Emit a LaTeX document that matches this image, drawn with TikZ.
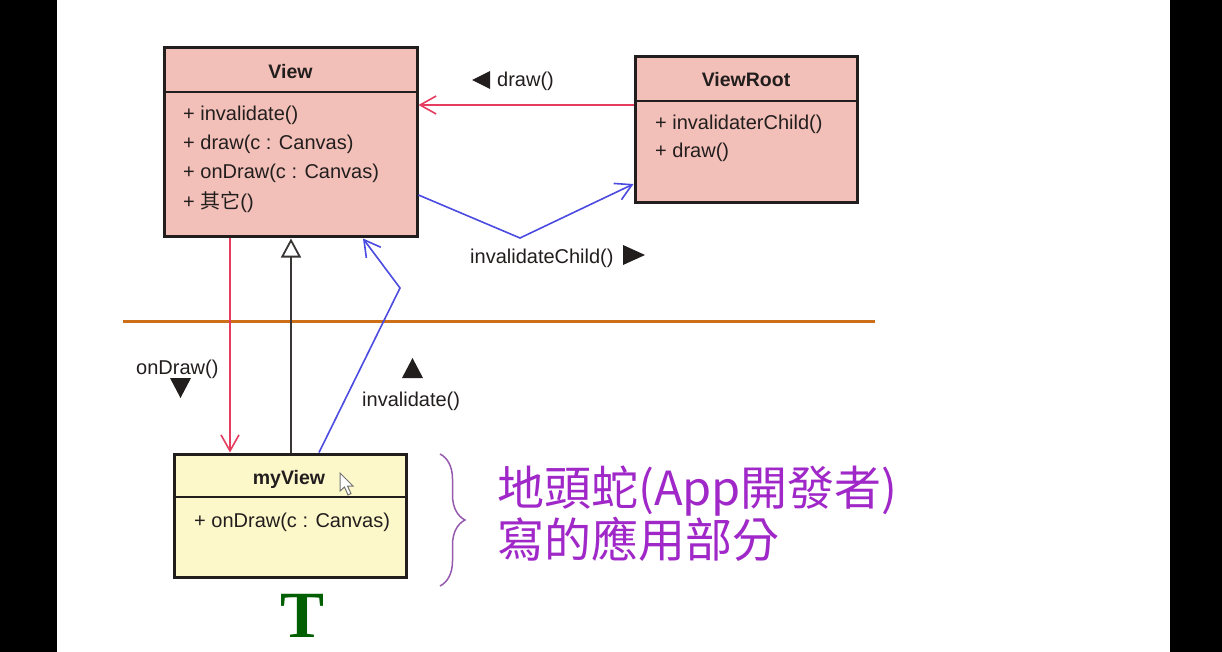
\documentclass[tikz,border=0pt]{standalone}
\usepackage{fontspec}
\setmainfont{Liberation Sans}
\newfontfamily\cjk{Noto Sans CJK TC}
\newfontfamily\serifb{Liberation Serif}
\usetikzlibrary{arrows.meta,decorations.pathreplacing,calc}
\definecolor{boxpink}{RGB}{242,192,184}
\definecolor{boxyellow}{RGB}{252,248,202}
\definecolor{linered}{RGB}{230,60,95}
\definecolor{lineblue}{RGB}{75,75,225}
\definecolor{orangeline}{RGB}{205,110,25}
\definecolor{textpurple}{RGB}{160,40,200}
\definecolor{bracepurple}{RGB}{150,90,175}
\definecolor{tgreen}{RGB}{0,95,0}
\definecolor{ink}{RGB}{35,30,30}
\begin{document}
\begin{tikzpicture}[x=1pt,y=-1pt,
  umlbox/.style={draw=ink,line width=3pt,inner sep=0pt},
  divider/.style={draw=ink,line width=2pt},
  member/.style={anchor=base west,inner sep=0pt,font=\fontsize{20}{20}\selectfont,text=ink},
  umltitle/.style={anchor=base,inner sep=0pt,font=\bfseries\fontsize{19.5}{19.5}\selectfont,text=ink},
  lbl/.style={anchor=base west,inner sep=0pt,font=\fontsize{20}{20}\selectfont,text=ink},
  tri/.style={fill=ink},
  openarrow/.style={-{Straight Barb[length=16pt,width=18pt,line width=1.6pt]},line width=1.6pt},
]
\fill[black] (0,0) rectangle (1222,652);
\fill[white] (57,0) rectangle (1170,652);
\useasboundingbox (0,0) rectangle (1222,652);

% View class
\node[umlbox,fill=boxpink,minimum width=253pt,minimum height=189pt] (view) at (290.5,142.5) {};
\draw[divider] (view.west |- 0,92) -- (view.east |- 0,92);
\node[umltitle] (viewt) at (290.5,79) {View};
\node[member] (vm1) at (183,121) {+ invalidate()};
\node[member] (vm2) at (183,150) {+ draw(c : Canvas)};
\node[member] (vm3) at (183,179) {+ onDraw(c : Canvas)};
\node[member] (vm4) at (183,209) {+ {\cjk 其它}()};

% ViewRoot class
\node[umlbox,fill=boxpink,minimum width=222pt,minimum height=146pt] (vroot) at (746,130) {};
\draw[divider] (vroot.west |- 0,101) -- (vroot.east |- 0,101);
\node[umltitle] (vroott) at (746,87) {ViewRoot};
\node[member] (rm1) at (655,130) {+ invalidaterChild()};
\node[member] (rm2) at (655,158) {+ draw()};

% myView class
\node[umlbox,fill=boxyellow,minimum width=232pt,minimum height=123pt] (myview) at (290,515.5) {};
\draw[divider] (myview.west |- 0,497) -- (myview.east |- 0,497);
\node[umltitle] (myviewt) at (289,484) {myView};
\node[member] (mm1) at (194,527) {+ onDraw(c : Canvas)};

% mouse pointer
\draw[fill=white,draw=black!55,line width=1pt,shift={(340,473)}]
  (0,0) -- (0,18) -- (4.5,14) -- (8,22) -- (11,20.5) -- (7.5,13) -- (13,13) -- cycle;

% separator
\draw[orangeline,line width=3pt] (123,321) -- (875,321);

% connectors
\coordinate (b1) at (520,238);
\coordinate (b2) at (400,288);
\draw[openarrow,linered] (vroot.west |- 0,105) -- (view.east |- 0,105);
\draw[openarrow,lineblue] (view.east |- 0,195) -- (b1) -- (vroot.west |- 0,184);
\draw[openarrow,linered] (view.south -| 230,0) -- (myview.north -| 230,0);
\draw[line width=1.8pt,draw=ink!90,-{Triangle[open,fill=white,length=19pt,width=20pt,line width=1.8pt]}]
  (myview.north -| 291,0) -- (view.south -| 291,0);
\draw[openarrow,lineblue] (myview.north -| 319,0) -- (b2) -- (view.south -| 363,0);

% labels
\fill[tri] (472,80) -- (490,71) -- (490,89) -- cycle;
\node[lbl] (ldraw) at (497,87) {draw()};
\node[lbl] (linvc) at (470,263) {invalidateChild()};
\fill[tri] (645,255) -- (623,245) -- (623,265) -- cycle;
\node[lbl] (lond) at (136,374) {onDraw()};
\fill[tri] (170,378) -- (191,378) -- (180.5,398) -- cycle;
\fill[tri] (402,378) -- (423,378) -- (412.5,358) -- cycle;
\node[lbl] (linv) at (362,406) {invalidate()};

% brace and note
\draw[bracepurple,line width=1.5pt,decorate,decoration={brace,amplitude=25pt}] (440,454) -- (440,586);
\node[anchor=base west,inner sep=0pt,font=\cjk\fontsize{47}{47}\selectfont,text=textpurple] (note1) at (497,505) {地頭蛇(App開發者)};
\node[anchor=base west,inner sep=0pt,font=\cjk\fontsize{47}{47}\selectfont,text=textpurple] (note2) at (497,557) {寫的應用部分};

% T
\node[anchor=base,inner sep=0pt,font=\serifb\bfseries\fontsize{66}{66}\selectfont,text=tgreen] (tee) at (303,637) {T};
\end{tikzpicture}
\end{document}
